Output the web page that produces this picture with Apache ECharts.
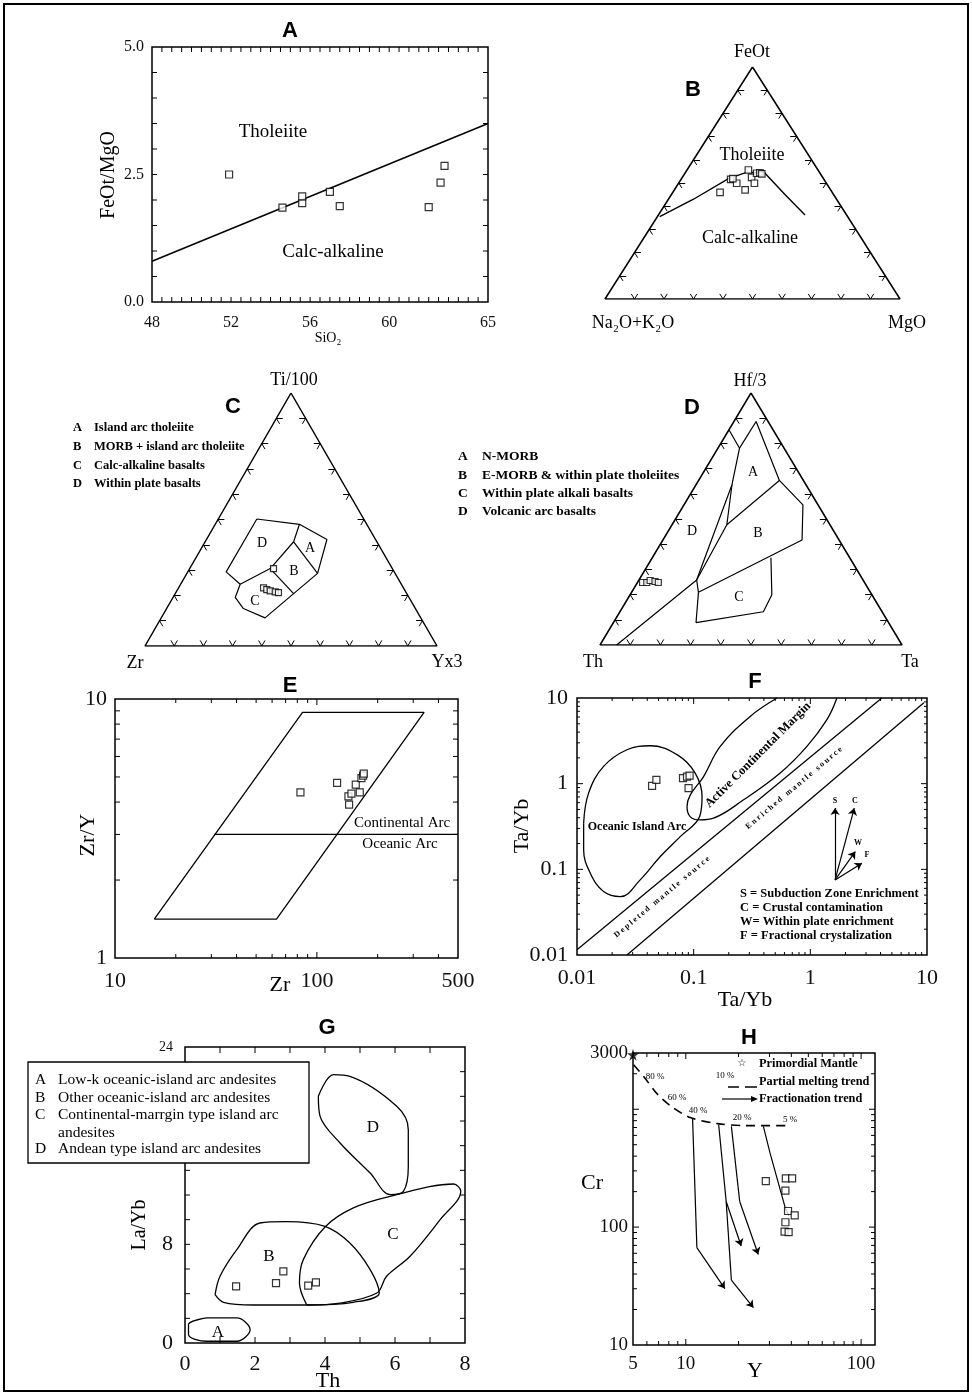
<!DOCTYPE html>
<html><head><meta charset="utf-8">
<script src="https://cdn.jsdelivr.net/npm/echarts@6/dist/echarts.min.js"></script>
<style>html,body{margin:0;padding:0;background:#fff}#c{width:972px;height:1395px}</style>
</head><body><div id="c"></div>
<script>
// ---------------- DATA ----------------
// Panel A : FeOt/MgO vs SiO2
const aSiO2 = [51.9, 54.6, 55.6, 55.6, 57.0, 57.5, 62.0, 62.6, 62.8];
const aFeMg = [2.50, 1.85, 1.94, 2.07, 2.16, 1.88, 1.86, 2.34, 2.67];
const aBoundary = [[48, 0.8], [65, 3.5]];
const aXLabels = [48, 52, 56, 60, 65];
const aYLabels = [0, 2.5, 5];
// Panel B : AFM ternary [FeOt, Na2O+K2O, MgO] (%)
const bSamples = [[46,38,16],[51.6,31.6,16.8],[49.9,30.4,19.7],[47,29,24],[55.6,23.6,20.8],[52.4,24.1,23.5],[49.9,24.4,25.7],[54.2,21.5,24.3],[54.4,20.3,25.3],[53.9,19.9,26.2],[51.9,30.7,17.4]];
const bBoundary = [[35.5,63.7,0.8],[43,48.5,8.5],[52,32,16],[54.6,24.7,20.7],[54.5,18.75,26.75],[45,16.5,38.5],[36.2,14.1,49.7]];
// Panel C : Ti/100 - Zr - Yx3 ternary [Ti, Zr, Y] (%)
const cSamples = [[30.6,40.7,28.7],[23,47.9,29.1],[22.3,47.15,30.55],[21.8,46.2,32],[21.4,44.7,33.9],[21.1,43.75,35.15]];
const cOuter = [[50.2,36.6,13.2],[48.1,23.05,28.85],[42.1,16.65,41.25],[28.7,26.55,44.75],[20.7,38.75,40.55],[11.1,53.35,35.55],[14.8,58.9,26.3],[19.2,59.5,21.3],[24.4,55.2,20.4],[29.3,57.55,13.15],[50.2,36.6,13.2]];
const cDA = [[48.1,23.05,28.85],[41.2,28.5,30.3]];
const cAB = [[41.2,28.5,30.3],[28.7,26.55,44.75]];
const cDBC = [[41.2,28.5,30.3],[30.6,41.8,27.6],[24.4,55.2,20.4]];
const cBC = [[30.6,41.8,27.6],[20.7,38.75,40.55]];
// Panel D : Hf/3 - Th - Ta ternary [Hf, Th, Ta] (%)
const dSamples = [[24.8,73.5,1.7],[24.8,72.1,3.1],[25.6,70.6,3.8],[25.2,69.2,5.6],[24.8,68.3,6.9]];
const dLineVAB = [[85.4,14.6,0],[78.1,14.75,7.15],[63.6,24.5,11.9],[25.8,55.1,19.1],[0,94.5,5.5]];
const dLineTop = [[88.7,3.95,7.35],[78.1,14.75,7.15]];
const dLineALeft = [[63.6,24.5,11.9],[47.7,34.15,18.15],[25.8,55.1,19.1]];
const dLineAB = [[47.7,34.15,18.15],[65.3,7.95,26.75]];
const dLineBOuter = [[88.7,3.95,7.35],[65.3,7.95,26.75],[55.6,5,39.4],[41.7,12.25,46.05],[20.9,56.95,22.15],[25.8,55.1,19.1]];
const dLineC = [[34.6,26.1,39.3],[19.9,33.15,46.95],[13.2,39.3,47.5],[8.9,63.75,27.35],[20.9,56.95,22.15]];
// Panel E : Zr/Y vs Zr (log-log)
const eZr = [82.9, 125.9, 143.3, 144.4, 148.3, 155.8, 163.1, 166.2, 169.4, 170.7];
const eZrY = [4.36, 4.74, 4.21, 3.91, 4.31, 4.67, 4.36, 4.95, 5.06, 5.15];
const eField = [[15.65,1.414],[63.1,1.414],[339.6,8.88],[84.9,8.88],[15.65,1.414]];
const eDivider = [[31,3],[500,3]];
const eXLabels = [10, 100, 500];
const eYLabels = [1, 10];
// Panel F : Ta/Yb vs Ta/Yb (log-log)
const fX = [0.044, 0.0479, 0.081, 0.0877, 0.0923, 0.0904];
const fY = [0.944, 1.11, 1.16, 1.21, 1.24, 0.888];
const fUpper = [[0.01,0.0115],[4.1,10]];
const fLower = [[0.0268,0.01],[9.4,8.8]];
const fOIA = [[0.0114,0.346],[0.01257,0.776],[0.0169,1.59],[0.0268,2.49],[0.0425,2.77],[0.072,2.18],[0.103,1.33],[0.118,0.708],[0.1125,0.413],[0.0767,0.241],[0.0518,0.141],[0.0348,0.0753],[0.0235,0.048],[0.0169,0.055],[0.013,0.09],[0.0114,0.169],[0.0114,0.346]];
const fACM = [[0.518,10],[0.305,6.1],[0.169,2.72],[0.1216,1.21],[0.0936,0.74],[0.0877,0.54],[0.0936,0.41],[0.114,0.378],[0.148,0.396],[0.268,0.648],[0.552,1.33],[0.935,2.72],[1.387,5.58],[1.69,10]];
const fVecOrigin = [1.63, 0.0753];
const fVecTips = [[1.63,0.519],[2.38,0.519],[2.43,0.161],[2.77,0.118]];
const fLabels = [0.01, 0.1, 1, 10];
// Panel G : La/Yb vs Th
const gTh = [1.46, 2.60, 2.81, 3.52, 3.74];
const gLaYb = [4.59, 4.86, 5.81, 4.65, 4.92];
const gFieldA = [[0.62,2.03],[1.48,2.03],[1.86,1.08],[1.48,0.14],[0.62,0.14],[0.1,0.68],[0.1,1.49],[0.62,2.03]];
const gFieldB = [[0.86,3.92],[1.0,5.41],[1.48,7.57],[2.14,9.73],[2.9,9.84],[4.0,9.46],[4.71,8.11],[5.29,5.95],[5.55,4.05],[4.81,3.3],[3.48,3.08],[1.95,3.08],[1.1,3.3],[0.86,3.92]];
const gFieldC = [[3.48,3.08],[3.27,4.86],[3.38,6.76],[4.0,9.41],[4.81,10.95],[5.86,11.89],[7.67,12.89],[7.88,12.3],[7.29,10.0],[6.43,7.03],[5.76,5.41],[5.48,4.05],[4.43,3.24],[3.48,3.08]];
const gFieldD = [[3.81,20.0],[4.24,21.76],[4.71,21.62],[6.05,19.19],[6.38,17.3],[6.38,14.32],[6.24,12.3],[5.86,12.03],[5.29,13.78],[4.43,16.22],[3.86,18.38],[3.81,20.0]];
// Panel H : Cr vs Y (log-log)
const hY = [28.6, 37.2, 40.4, 37.0, 38.3, 41.8, 37.0, 36.6, 38.6];
const hCr = [246, 259, 259, 204, 137, 126, 110, 91.6, 90.6];
const hMantle = [5, 2900];
const hMelting = [[5.04,2384],[5.87,1824],[6.87,1349],[8.19,1069],[10.7,845],[15.2,755],[21.7,726],[38.6,726]];
const hTrend1 = [[10.93,845],[11.57,67],[16.7,30.1]];
const hTrend2 = [[15.4,741],[17.0,165],[20.7,69.2]];
const hTrend2b = [[17.0,165],[18.2,35.5],[24.3,20.8]];
const hTrend3 = [[18.2,716],[20.3,165],[25.9,58.6]];
const hTrend4 = [[27.7,716],[30.3,420],[37.0,144],[38.6,126]];
const hXLabels = [5, 10, 100];
const hYLabels = [10, 100, 3000];

// ---------------- BUILD ----------------
const SERIF = "'Liberation Serif','Times New Roman',serif";
const SANS = "'Liberation Sans',Arial,sans-serif";
const grids = [], xAxes = [], yAxes = [], series = [], graphics = [];
const SQ = {symbol:'rect', symbolSize:7, itemStyle:{color:'#fff', borderColor:'#000', borderWidth:1.2}};

function t2xy(p){ const s=p[0]+p[1]+p[2]; const a=p[0]/s, c=p[2]/s; return [c + a/2, a]; }
function labelFmt(list, dec){ return v => { const r=+(+v).toPrecision(6); const hit=list.find(l=>Math.abs(l-r)<=Math.abs(l)*1e-5+1e-12); return hit===undefined?'':(dec!==undefined?hit.toFixed(dec):String(hit)); }; }
function axisBase(gi, extra){ return Object.assign({gridIndex:gi, axisLine:{show:false}, axisTick:{show:false}, splitLine:{show:false}, minorTick:{show:false}}, extra); }
function lab(size, margin, fmt, extra){ return Object.assign({fontFamily:SERIF, color:'#111', fontSize:size, margin:margin, formatter:fmt}, extra||{}); }
function addGrid(rect, border){ grids.push(Object.assign({show:!!border, borderColor:'#000', borderWidth:1.5, backgroundColor:'transparent', containLabel:false}, rect)); return grids.length-1; }
function line(gi, data, o){ o=o||{}; return {type:'line', xAxisIndex:gi, yAxisIndex:gi, data, symbol:'none', smooth:o.smooth||false, silent:true, z:o.z||3,
  lineStyle:{color:'#000', width:o.w||1.3, type:o.type||'solid'}}; }
function scatter(gi, data, o){ return Object.assign({type:'scatter', xAxisIndex:gi, yAxisIndex:gi, data, z:6, silent:true}, SQ, o||{}); }
function segs(gi, list, arrow){ return {type:'lines', coordinateSystem:'cartesian2d', xAxisIndex:gi, yAxisIndex:gi, silent:true, z:4,
  symbol: arrow?['none','arrow']:['none','none'], symbolSize: 7,
  data: list.map(c=>({coords:c})), lineStyle:{color:'#000', width:1.2, opacity:1}}; }
function ticks(gi, dir, vals, len, ref){
  return {type:'custom', xAxisIndex:gi, yAxisIndex:gi, silent:true, z:5, clip:false,
    data: vals.map(v => dir==='x' ? [v, ref, len] : [ref, v, len]),
    renderItem(params, api){
      const cs = params.coordSys, L = api.value(2), st = {stroke:'#000', lineWidth:1};
      if (dir==='x'){
        const px = api.coord([api.value(0), ref])[0], b = cs.y+cs.height;
        return {type:'group', children:[
          {type:'line', shape:{x1:px,y1:b,x2:px,y2:b-L}, style:st},
          {type:'line', shape:{x1:px,y1:cs.y,x2:px,y2:cs.y+L}, style:st}]};
      }
      const py = api.coord([ref, api.value(1)])[1], r = cs.x+cs.width;
      return {type:'group', children:[
        {type:'line', shape:{x1:cs.x,y1:py,x2:cs.x+L,y2:py}, style:st},
        {type:'line', shape:{x1:r,y1:py,x2:r-L,y2:py}, style:st}]};
    }};
}
function logMinor(lo, hi){ const out=[]; for(let d=Math.floor(Math.log10(lo)); d<=Math.ceil(Math.log10(hi)); d++){ for(let k=2;k<=9;k++){ const v=+(k*Math.pow(10,d)).toPrecision(6); if(v>lo && v<hi) out.push(v);} } return out; }
function range(a,b,s){ const o=[]; for(let v=a; v<=b+1e-9; v+=s) o.push(+v.toFixed(6)); return o; }
function ternary(gi){
  const tri = [[0.5,1],[0,0],[1,0],[0.5,1]];
  const sg = [], L = 0.022;
  for (let i=1;i<=9;i++){ const t=i/10;
    sg.push([[t,0],[t+0.5*L,L]], [[t,0],[t-0.5*L,L]]);
    const lx=0.5*t, ly=t; sg.push([[lx,ly],[lx+L,ly]], [[lx,ly],[lx+0.5*L,ly-L]]);
    const rx=1-0.5*t, ry=t; sg.push([[rx,ry],[rx-L,ry]], [[rx,ry],[rx-0.5*L,ry-L]]);
  }
  series.push(line(gi, tri, {w:1.5}));
  const s = segs(gi, sg, false); s.lineStyle.width = 1; series.push(s);
}
function T(text, x, y, size, o){ o=o||{}; return {type:'text', x, y, rotation:(o.rot||0)*Math.PI/180, z:o.z||50,
  style:{text, fontSize:size, fontFamily:o.ff||SERIF, fontWeight:o.fw||'normal', fill:'#000', align:o.align||'center', verticalAlign:o.va||'middle'}}; }

// ---- A
let gi = addGrid({left:152, top:47, width:336, height:255}, true);
xAxes.push(axisBase(gi, {type:'value', min:48, max:65, interval:0.5, axisLabel:lab(16, 13, labelFmt(aXLabels))}));
yAxes.push(axisBase(gi, {type:'value', min:0, max:5, interval:0.5, axisLabel:lab(16, 8, labelFmt(aYLabels,1))}));
series.push(ticks(gi,'x',range(48.5,64.5,0.5),5,1), ticks(gi,'y',range(0.5,4.5,0.5),5,50));
series.push(line(gi, aBoundary, {w:1.5}), scatter(gi, aSiO2.map((v,i)=>[v,aFeMg[i]])));
graphics.push(T('A',290,31,22,{ff:SANS,fw:'bold'}), T('Tholeiite',273,132,19), T('Calc-alkaline',333,252,19),
  T('FeOt/MgO',109,175,20,{rot:90}), T('SiO₂',328,338,14));

// ---- B
gi = addGrid({left:605, top:67, width:295, height:232}, false);
xAxes.push(axisBase(gi,{type:'value',min:0,max:1,show:false})); yAxes.push(axisBase(gi,{type:'value',min:0,max:1,show:false}));
ternary(gi);
series.push(line(gi, bBoundary.map(t2xy), {w:1.4}), scatter(gi, bSamples.map(t2xy), {symbolSize:6.5}));
graphics.push(T('B',693,90,22,{ff:SANS,fw:'bold'}), T('FeOt',752,52,18), T('Na₂O+K₂O',633,323,18), T('MgO',907,323,18),
  T('Tholeiite',752,155,18), T('Calc-alkaline',750,238,18));

// ---- C
gi = addGrid({left:145, top:393, width:292, height:253}, false);
xAxes.push(axisBase(gi,{type:'value',min:0,max:1,show:false})); yAxes.push(axisBase(gi,{type:'value',min:0,max:1,show:false}));
ternary(gi);
[cOuter, cDA, cAB, cDBC, cBC].forEach(d => series.push(line(gi, d.map(t2xy), {w:1.2})));
series.push(scatter(gi, cSamples.map(t2xy), {symbolSize:6}));
graphics.push(T('C',233,407,22,{ff:SANS,fw:'bold'}), T('Ti/100',294,380,18), T('Zr',135,663,18), T('Yx3',447,662,18),
  T('D',262,543,14), T('A',310,548,14), T('B',294,571,14), T('C',255,601,14));
[['A','Island arc tholeiite'],['B','MORB + island arc tholeiite'],['C','Calc-alkaline basalts'],['D','Within plate basalts']].forEach((r,i)=>{
  const y=428+i*18.7; graphics.push(T(r[0],73,y,12.5,{fw:'bold',align:'left'}), T(r[1],94,y,12.5,{fw:'bold',align:'left'}));
});

// ---- D
gi = addGrid({left:600, top:393, width:302, height:252}, false);
xAxes.push(axisBase(gi,{type:'value',min:0,max:1,show:false})); yAxes.push(axisBase(gi,{type:'value',min:0,max:1,show:false}));
ternary(gi);
[dLineVAB, dLineTop, dLineALeft, dLineAB, dLineBOuter, dLineC].forEach(d => series.push(line(gi, d.map(t2xy), {w:1.2})));
series.push(scatter(gi, dSamples.map(t2xy), {symbolSize:6}));
graphics.push(T('D',692,408,22,{ff:SANS,fw:'bold'}), T('Hf/3',750,381,18), T('Th',593,662,18), T('Ta',910,662,18),
  T('A',753,472,14), T('B',758,533,14), T('C',739,597,14), T('D',692,531,14));
[['A','N-MORB'],['B','E-MORB & within plate tholeiites'],['C','Within plate alkali basalts'],['D','Volcanic arc basalts']].forEach((r,i)=>{
  const y=457+i*18.3; graphics.push(T(r[0],458,y,13.5,{fw:'bold',align:'left'}), T(r[1],482,y,13.5,{fw:'bold',align:'left'}));
});

// ---- E
gi = addGrid({left:115, top:699, width:343, height:259}, true);
xAxes.push(axisBase(gi,{type:'log', logBase:10, min:10, max:500, axisLabel:lab(22, 12, labelFmt(eXLabels))}));
yAxes.push(axisBase(gi,{type:'log', logBase:10, min:1, max:10, axisLabel:lab(22, 8, labelFmt(eYLabels))}));
series.push(ticks(gi,'x',logMinor(10,500),4,2), ticks(gi,'x',[100],6,2), ticks(gi,'y',logMinor(1,10),5,50));
series.push(line(gi, eField, {w:1.3}), line(gi, eDivider, {w:1.3}), scatter(gi, eZr.map((v,i)=>[v,eZrY[i]]), {symbolSize:7}));
graphics.push(T('E',290,686,22,{ff:SANS,fw:'bold'}), T('Continental Arc',402,823,15), T('Oceanic Arc',400,844,15),
  T('Zr/Y',88,835,22,{rot:90}), T('Zr',280,985,22));

// ---- F
gi = addGrid({left:577, top:698, width:350, height:257}, true);
xAxes.push(axisBase(gi,{type:'log', logBase:10, min:0.01, max:10, axisLabel:lab(22, 12, labelFmt(fLabels))}));
yAxes.push(axisBase(gi,{type:'log', logBase:10, min:0.01, max:10, axisLabel:lab(22, 9, labelFmt(fLabels))}));
series.push(ticks(gi,'x',logMinor(0.01,10),3,1), ticks(gi,'x',[0.1,1],6,1), ticks(gi,'y',logMinor(0.01,10),3,1), ticks(gi,'y',[0.1,1],6,1));
series.push(line(gi, fUpper, {w:1.3}), line(gi, fLower, {w:1.3}), line(gi, fOIA, {w:1.3, smooth:0.4}), line(gi, fACM, {w:1.3, smooth:0.4}));
series.push(segs(gi, fVecTips.map(t=>[fVecOrigin, t]), true));
series.push(scatter(gi, fX.map((v,i)=>[v,fY[i]]), {symbolSize:7}));
graphics.push(T('F',755,682,22,{ff:SANS,fw:'bold'}), T('Ta/Yb',745,1000,22), T('Ta/Yb',522,826,22,{rot:90}),
  T('Oceanic Island Arc',637,827,12,{fw:'bold'}), T('Active Continental Margin',758,755,12.5,{fw:'bold',rot:45}),
  T('D e p l e t e d   m a n t l e   s o u r c e',662,897,8,{fw:'bold',rot:40}),
  T('E n r i c h e d   m a n t l e   s o u r c e',794,788,8,{fw:'bold',rot:40}),
  T('S',835,801,8,{fw:'bold'}), T('C',855,801,8,{fw:'bold'}), T('W',858,843,8,{fw:'bold'}), T('F',867,855,8,{fw:'bold'}));
['S = Subduction Zone Enrichment','C = Crustal contamination','W= Within plate enrichment','F = Fractional crystalization'].forEach((s,i)=>
  graphics.push(T(s,740,894+i*14,12.5,{fw:'bold',align:'left'})));

// ---- G
gi = addGrid({left:185, top:1047, width:280, height:296}, true);
xAxes.push(axisBase(gi,{type:'value', min:0, max:8, interval:2, axisLabel:lab(22, 10, v=>String(v))}));
yAxes.push(axisBase(gi,{type:'value', min:0, max:24, interval:8, axisLabel:lab(22, 12, v=> v===24?'{s|24}':String(v), {rich:{s:{fontSize:14, fontFamily:SERIF, color:'#111'}}})}));
series.push(ticks(gi,'x',range(1,7,1),6,1), ticks(gi,'y',range(2,22,2),5,1));
[gFieldA, gFieldB, gFieldC, gFieldD].forEach(d => series.push(line(gi, d, {w:1.3, smooth:0.35})));
series.push(scatter(gi, gTh.map((v,i)=>[v,gLaYb[i]]), {symbolSize:7}));
graphics.push(T('G',327,1028,22,{ff:SANS,fw:'bold'}), T('La/Yb',140,1225,20,{rot:90}), T('Th',328,1381,22),
  T('A',218,1333,17), T('B',269,1257,17), T('C',393,1235,17), T('D',373,1128,17));
graphics.push({type:'rect', z:100, shape:{x:28, y:1062, width:281, height:101}, style:{fill:'#fff', stroke:'#000', lineWidth:1.3}});
[['A','Low-k oceanic-island arc andesites',1080],['B','Other oceanic-island arc andesites',1097.5],['C','Continental-marrgin type island arc',1115],['','andesites',1132.5],['D','Andean type island arc andesites',1149]].forEach(r=>{
  if (r[0]) graphics.push(T(r[0],35,r[2],15.5,{align:'left',z:101}));
  graphics.push(T(r[1],58,r[2],15.5,{align:'left',z:101}));
});

// ---- H
gi = addGrid({left:633, top:1053, width:242, height:292}, true);
xAxes.push(axisBase(gi,{type:'log', logBase:10, min:5, max:120, axisLabel:lab(19, 10, labelFmt(hXLabels))}));
yAxes.push(axisBase(gi,{type:'log', logBase:10, min:10, max:3000, axisLabel:lab(19, 5, labelFmt(hYLabels))}));
series.push(ticks(gi,'x',logMinor(5,120),4,20), ticks(gi,'x',[10,100],6,20), ticks(gi,'y',logMinor(10,3000),4,10), ticks(gi,'y',[100,1000],6,10));
series.push(line(gi, hMelting, {w:1.6, type:[9,6], smooth:0.3}));
[hTrend1, hTrend2, hTrend2b, hTrend3].forEach(d => series.push(line(gi, d.slice(0,-1), {w:1.2})));
series.push(line(gi, hTrend4, {w:1.2}));
series.push(segs(gi, [hTrend1, hTrend2, hTrend2b, hTrend3].map(d=>d.slice(-2)), true));
series.push(scatter(gi, hY.map((v,i)=>[v,hCr[i]]), {symbolSize:7}));
series.push({type:'scatter', xAxisIndex:gi, yAxisIndex:gi, data:[hMantle], z:7, silent:true,
  symbol:'path://M50,0 L61,35 L98,35 L68,57 L79,91 L50,70 L21,91 L32,57 L2,35 L39,35 Z', symbolSize:12, itemStyle:{color:'#000'}});
graphics.push(T('H',749,1038,22,{ff:SANS,fw:'bold'}), T('Cr',592,1183,22), T('Y',755,1371,22),
  T('80 %',655,1077,9), T('60 %',677,1098,9), T('40 %',698,1111,9), T('20 %',742,1118,9), T('5 %',790,1120,9), T('10 %',725,1076,9),
  T('☆',742,1063,10,{ff:"'DejaVu Sans',sans-serif"}), T('Primordial Mantle',759,1064,12.3,{fw:'bold',align:'left'}),
  T('Partial melting trend',759,1082,12.3,{fw:'bold',align:'left'}), T('Fractionation trend',759,1099,12.3,{fw:'bold',align:'left'}),
  {type:'line', z:50, shape:{x1:728,y1:1087,x2:739,y2:1087}, style:{stroke:'#000',lineWidth:1.5}},
  {type:'line', z:50, shape:{x1:745,y1:1087,x2:757,y2:1087}, style:{stroke:'#000',lineWidth:1.5}},
  {type:'line', z:50, shape:{x1:722,y1:1099,x2:754,y2:1099}, style:{stroke:'#000',lineWidth:1.2}},
  {type:'polygon', z:50, shape:{points:[[758,1099],[751,1096],[751,1102]]}, style:{fill:'#000'}});

// outer frame
graphics.push({type:'rect', z:0, shape:{x:4, y:4, width:964, height:1387}, style:{fill:'none', stroke:'#000', lineWidth:2}});

const chart = echarts.init(document.getElementById('c'), null, {renderer:'canvas'});
chart.setOption({animation:false, backgroundColor:'#fff', grid:grids, xAxis:xAxes, yAxis:yAxes, series, graphic:{elements:graphics}});
</script></body></html>
